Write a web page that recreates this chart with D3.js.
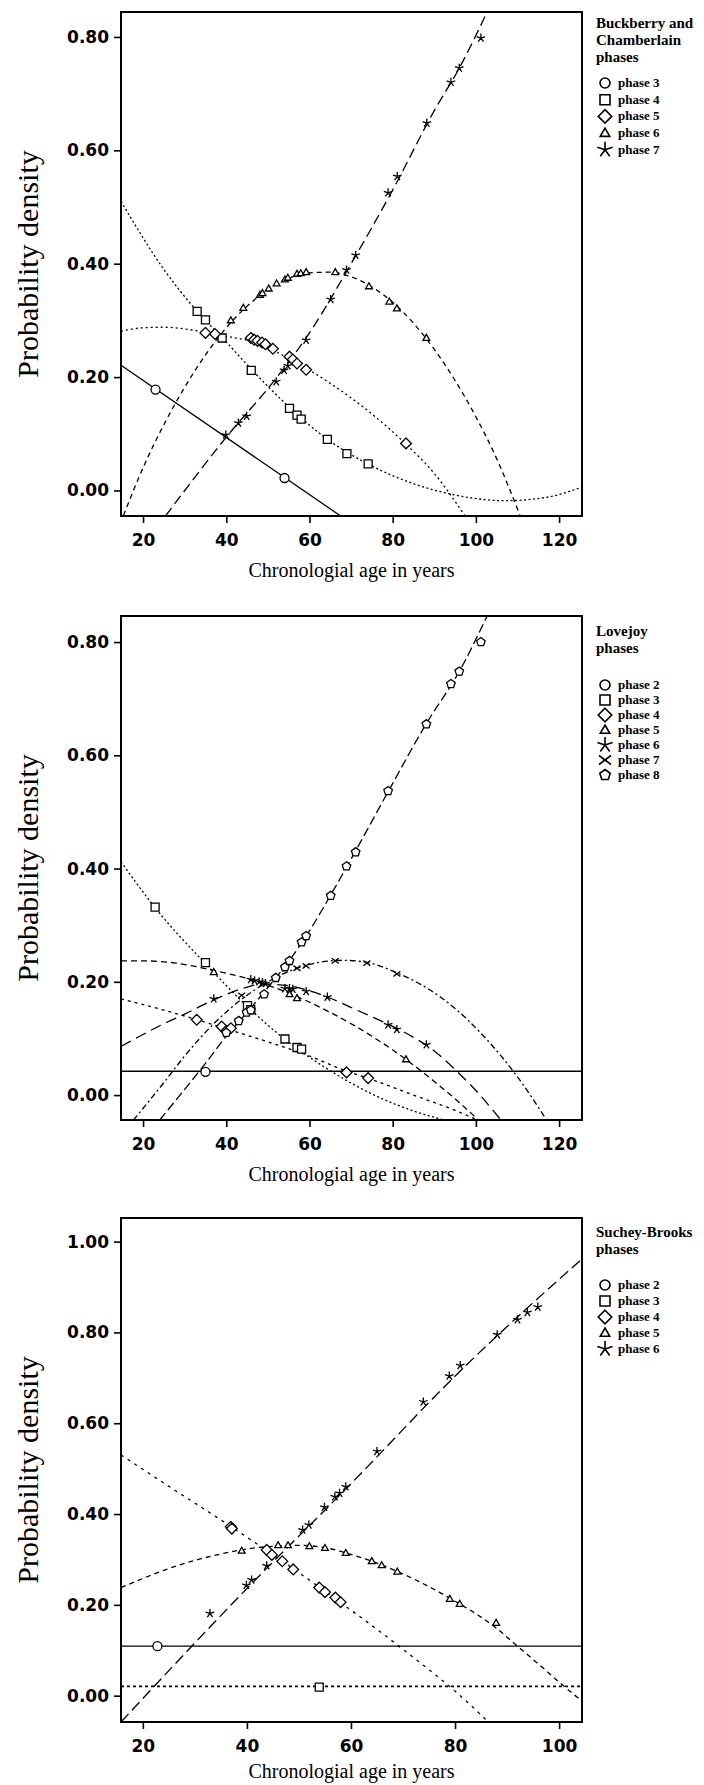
<!DOCTYPE html>
<html>
<head>
<meta charset="utf-8">
<script src="https://cdn.jsdelivr.net/npm/d3@7"></script>
<style>
  body { margin: 0; background: #fff; }
  svg { display: block; }
</style>
</head>
<body>
<script>
// ---- Buckberry and Chamberlain ----
var bcNames = ["phase 3", "phase 4", "phase 5", "phase 6", "phase 7"];
var bcCurve3 = [[14.7, 0.221], [67.5, -0.045]];
var bcCurve4 = [[14.7, 0.51], [25, 0.39], [33, 0.316], [40, 0.262], [46, 0.214], [55, 0.148], [64, 0.092], [74, 0.047], [85, 0.012], [95, -0.008], [107, -0.018], [117, -0.012], [125.5, 0.006]];
var bcCurve5 = [[14.7, 0.281], [20, 0.287], [25, 0.288], [30, 0.285], [35, 0.279], [40, 0.272], [46, 0.263], [51, 0.248], [56, 0.229], [65, 0.189], [75, 0.135], [83, 0.083], [90, 0.03], [97.4, -0.045]];
var bcCurve6 = [[15.3, -0.044], [20, 0.04], [25, 0.116], [30, 0.182], [35, 0.239], [40, 0.287], [45, 0.325], [50, 0.354], [55, 0.374], [60, 0.384], [65, 0.385], [70, 0.377], [75, 0.359], [80, 0.332], [85, 0.295], [90, 0.249], [95, 0.194], [100, 0.13], [105, 0.056], [110.6, -0.044]];
var bcCurve7 = [[25.4, -0.045], [40, 0.094], [52, 0.198], [60, 0.278], [70, 0.4], [80, 0.53], [90, 0.67], [96, 0.745], [102.7, 0.844]];
var bcPts3 = [[23, 0.178], [54, 0.022]];
var bcPts4 = [[33, 0.316], [35, 0.301], [39, 0.269], [46, 0.212], [55.2, 0.145], [57, 0.133], [58, 0.126], [64.3, 0.09], [69, 0.065], [74.1, 0.047]];
var bcPts5 = [[35, 0.278], [37.3, 0.276], [45.9, 0.269], [46.7, 0.266], [47.5, 0.264], [48.6, 0.261], [49.4, 0.258], [51.2, 0.25], [55.2, 0.236], [56, 0.231], [57, 0.224], [59.2, 0.213], [83.2, 0.083]];
var bcPts6 = [[41.1, 0.3], [44.1, 0.322], [48.1, 0.345], [48.7, 0.348], [50.2, 0.356], [52.1, 0.365], [54.1, 0.372], [54.8, 0.375], [57, 0.382], [57.9, 0.383], [59.2, 0.385], [66.2, 0.385], [74.3, 0.36], [79.2, 0.333], [81, 0.321], [88.1, 0.269]];
var bcPts7 = [[39.9, 0.098], [42.9, 0.119], [44.9, 0.131], [52, 0.192], [53.9, 0.212], [54.8, 0.22], [59.2, 0.265], [65.1, 0.337], [68.9, 0.389], [71.1, 0.415], [78.9, 0.525], [81.1, 0.554], [88.2, 0.648], [94, 0.72], [96, 0.745], [101.2, 0.798]];

// ---- Lovejoy ----
var ljNames = ["phase 2", "phase 3", "phase 4", "phase 5", "phase 6", "phase 7", "phase 8"];
var ljCurve2 = [[14.7, 0.042], [125.5, 0.042]];
var ljCurve3 = [[14.7, 0.412], [23, 0.33], [35, 0.232], [45, 0.157], [54, 0.099], [65, 0.043], [75, 0.002], [85, -0.028], [95, -0.049]];
var ljCurve4 = [[14.7, 0.17], [25, 0.15], [33, 0.133], [40, 0.117], [50, 0.094], [60, 0.069], [69, 0.042], [74, 0.03], [85, 0.0], [95, -0.027], [101, -0.046]];
var ljCurve5 = [[14.7, 0.237], [20, 0.237], [28, 0.233], [37, 0.22], [45, 0.206], [55, 0.18], [65, 0.146], [75, 0.104], [83, 0.064], [90, 0.024], [96, -0.013], [100.6, -0.044]];
var ljCurve6 = [[14.7, 0.086], [20, 0.107], [25, 0.126], [30, 0.143], [37, 0.168], [43, 0.186], [49, 0.196], [55, 0.193], [60, 0.184], [65, 0.171], [72, 0.148], [79, 0.125], [85, 0.102], [90, 0.078], [95, 0.045], [100, 0.008], [106, -0.044]];
var ljCurve7 = [[17.7, -0.044], [25, 0.022], [30, 0.069], [37, 0.126], [44, 0.171], [50, 0.2], [57, 0.224], [62, 0.234], [68, 0.238], [74, 0.234], [81, 0.216], [88, 0.19], [95, 0.153], [102, 0.103], [110, 0.032], [117, -0.044]];
var ljCurve8 = [[24, -0.044], [30, 0.01], [35, 0.056], [40, 0.104], [45, 0.146], [50, 0.19], [55, 0.236], [60, 0.29], [65, 0.352], [71, 0.43], [79, 0.537], [88, 0.655], [96, 0.748], [102.7, 0.846]];
var ljPts2 = [[35, 0.041]];
var ljPts3 = [[22.9, 0.332], [35, 0.234], [45.1, 0.158], [45.9, 0.151], [54.1, 0.099], [57, 0.084], [58.1, 0.081]];
var ljPts4 = [[32.9, 0.133], [38.9, 0.121], [40, 0.113], [41.1, 0.118], [68.9, 0.04], [74.1, 0.03]];
var ljPts5 = [[37, 0.217], [55.2, 0.178], [57, 0.171], [83.2, 0.063]];
var ljPts6 = [[37, 0.17], [45.9, 0.204], [46.8, 0.202], [47.9, 0.2], [48.7, 0.199], [49.4, 0.197], [54.1, 0.188], [55.2, 0.188], [56, 0.187], [59.2, 0.183], [64.3, 0.173], [78.9, 0.124], [81, 0.116], [88.1, 0.089]];
var ljPts7 = [[43.7, 0.176], [57, 0.224], [59.2, 0.228], [66.2, 0.237], [73.8, 0.233], [81, 0.214]];
var ljPts8 = [[40, 0.11], [43, 0.131], [44.9, 0.146], [45.9, 0.15], [49.1, 0.178], [51.9, 0.207], [54.1, 0.226], [55.2, 0.237], [58.1, 0.27], [59.2, 0.281], [65.1, 0.352], [68.9, 0.404], [71.1, 0.429], [78.9, 0.537], [88.1, 0.655], [94, 0.726], [96, 0.748], [101.2, 0.8]];

// ---- Suchey-Brooks ----
var sbNames = ["phase 2", "phase 3", "phase 4", "phase 5", "phase 6"];
var sbCurve2 = [[15.8, 0.109], [104.4, 0.109]];
var sbCurve3 = [[15.8, 0.0205], [104.4, 0.0205]];
var sbCurve4 = [[15.8, 0.53], [25, 0.461], [37, 0.372], [44, 0.318], [49, 0.279], [54, 0.238], [58, 0.205], [65, 0.146], [70, 0.102], [75, 0.057], [80, 0.01], [86.4, -0.058]];
var sbCurve5 = [[15.8, 0.238], [20, 0.258], [25, 0.28], [30, 0.298], [35, 0.312], [40, 0.323], [45, 0.329], [50, 0.331], [55, 0.326], [60, 0.311], [65, 0.292], [70, 0.268], [75, 0.24], [80, 0.208], [85, 0.173], [88, 0.148], [92, 0.109], [96, 0.07], [101, 0.02], [104.4, -0.012]];
var sbCurve6 = [[15.8, -0.058], [40, 0.236], [59, 0.455], [81, 0.715], [104.4, 0.962]];
var sbPts2 = [[22.8, 0.109]];
var sbPts3 = [[53.9, 0.019]];
var sbPts4 = [[36.9, 0.372], [37.1, 0.368], [43.8, 0.321], [44.8, 0.31], [46.8, 0.296], [48.9, 0.278], [53.9, 0.238], [55, 0.228], [57, 0.216], [58, 0.206]];
var sbPts5 = [[39, 0.319], [46, 0.331], [47.9, 0.331], [52, 0.329], [55, 0.325], [59, 0.314], [64, 0.296], [65.9, 0.287], [68.9, 0.273], [79, 0.213], [80.9, 0.202], [87.9, 0.16]];
var sbPts6 = [[32.9, 0.181], [39.9, 0.243], [40.9, 0.255], [43.8, 0.286], [50.7, 0.365], [51.9, 0.376], [54.9, 0.415], [56.9, 0.438], [57.8, 0.446], [59, 0.46], [65, 0.538], [73.9, 0.647], [78.9, 0.704], [81, 0.727], [88.1, 0.795], [92, 0.828], [93.9, 0.844], [95.9, 0.856]];

// tick values
var yTicksA = [0, 0.2, 0.4, 0.6, 0.8];
var yTicksB = [0, 0.2, 0.4, 0.6, 0.8, 1.0];
var xTicksA = [20, 40, 60, 80, 100, 120];
var xTicksB = [20, 40, 60, 80, 100];

var svg = d3.select("body").append("svg")
  .attr("width", 704)
  .attr("height", 1785);

var left = 121, right = 582;

// marker shapes, all as paths centred on 0,0
function shape(type, r) {
  var p = d3.path();
  if (type == "circle") {
    p.arc(0, 0, r, 0, 2 * Math.PI);
  } else if (type == "square") {
    p.rect(-r, -r, 2 * r, 2 * r);
  } else if (type == "diamond") {
    var d = r * 1.35;
    p.moveTo(0, -d); p.lineTo(d, 0); p.lineTo(0, d); p.lineTo(-d, 0); p.closePath();
  } else if (type == "triangle") {
    p.moveTo(0, -r); p.lineTo(r * 0.95, r * 0.65); p.lineTo(-r * 0.95, r * 0.65); p.closePath();
  } else if (type == "star") {
    for (var i = 0; i < 5; i++) {
      var a = -Math.PI / 2 + i * 2 * Math.PI / 5;
      p.moveTo(0, 0); p.lineTo(r * Math.cos(a), r * Math.sin(a));
    }
  } else if (type == "times") {
    p.moveTo(-r, -r * 0.75); p.lineTo(r, r * 0.75);
    p.moveTo(-r, r * 0.75); p.lineTo(r, -r * 0.75);
  } else if (type == "pentagon") {
    for (var j = 0; j < 5; j++) {
      var b = -Math.PI / 2 + j * 2 * Math.PI / 5;
      if (j == 0) p.moveTo(r * Math.cos(b), r * Math.sin(b));
      else p.lineTo(r * Math.cos(b), r * Math.sin(b));
    }
    p.closePath();
  }
  return p.toString();
}

function drawPanel(cfg, idx) {
  var xScale = d3.scaleLinear().domain(cfg.xDomain).range([left, right]);
  var yScale = d3.scaleLinear().domain(cfg.yDomain).range([cfg.bottom, cfg.top]);
  var g = svg.append("g");

  var clipId = "clip" + idx;
  svg.append("clipPath").attr("id", clipId)
    .append("rect")
    .attr("x", left).attr("y", cfg.top)
    .attr("width", right - left).attr("height", cfg.bottom - cfg.top);

  var plot = g.append("g").attr("clip-path", "url(#" + clipId + ")");

  var line = d3.line()
    .x(d => xScale(d[0]))
    .y(d => yScale(d[1]))
    .curve(d3.curveMonotoneX);

  cfg.series.forEach(function(s) {
    plot.append("path")
      .datum(s.curve)
      .attr("d", line)
      .attr("fill", "none")
      .attr("stroke", "#000")
      .attr("stroke-width", s.width || 1.3)
      .attr("stroke-dasharray", s.dash);
  });

  cfg.series.forEach(function(s) {
    plot.selectAll(null)
      .data(s.points)
      .enter()
      .append("path")
      .attr("transform", d => `translate(${xScale(d[0])},${yScale(d[1])})`)
      .attr("d", shape(s.symbol, s.size))
      .attr("fill", (s.symbol == "star" || s.symbol == "times") ? "none" : "#fff")
      .attr("stroke", "#000")
      .attr("stroke-width", 1.3);
  });

  // frame
  g.append("rect")
    .attr("x", left).attr("y", cfg.top)
    .attr("width", right - left).attr("height", cfg.bottom - cfg.top)
    .attr("fill", "none").attr("stroke", "#000").attr("stroke-width", 2);

  var leftAxis = d3.axisLeft(yScale).tickValues(cfg.yTicks)
    .tickFormat(d3.format(".2f")).tickSize(7).tickPadding(5);
  var bottomAxis = d3.axisBottom(xScale).tickValues(cfg.xTicks)
    .tickFormat(d3.format("d")).tickSize(7).tickPadding(11);

  var ya = g.append("g").attr("transform", `translate(${left},0)`).call(leftAxis);
  var xa = g.append("g").attr("transform", `translate(0,${cfg.bottom})`).call(bottomAxis);
  [ya, xa].forEach(function(a) {
    a.select(".domain").remove();
    a.selectAll("line").attr("stroke-width", 1.6);
    a.selectAll("text")
      .style("font-family", "DejaVu Sans")
      .style("font-weight", "bold")
      .style("font-size", "17px")
      .attr("fill", "#000");
  });

  // axis labels
  g.append("text")
    .attr("transform", `translate(38,${(cfg.top + cfg.bottom) / 2}) rotate(-90)`)
    .style("text-anchor", "middle")
    .style("font-family", "Liberation Serif")
    .style("font-size", "30px")
    .text("Probability density");

  g.append("text")
    .attr("x", (left + right) / 2)
    .attr("y", cfg.xLabelY)
    .style("text-anchor", "middle")
    .style("font-family", "Liberation Serif")
    .style("font-size", "20px")
    .text("Chronologial age in years");

  // legend
  var lg = g.append("g");
  cfg.title.forEach(function(t, i) {
    lg.append("text")
      .attr("x", 596)
      .attr("y", cfg.titleY + i * 17)
      .style("font-family", "Liberation Serif")
      .style("font-weight", "bold")
      .style("font-size", "15px")
      .text(t);
  });
  cfg.series.forEach(function(s, i) {
    var y = cfg.legendY + i * cfg.legendStep;
    var legendSize = { circle: 5, square: 5, diamond: 5, triangle: 5, star: 8, times: 6, pentagon: 5.5 }[s.symbol];
    lg.append("path")
      .attr("transform", `translate(605,${y})`)
      .attr("d", shape(s.symbol, legendSize))
      .attr("fill", "none")
      .attr("stroke", "#000")
      .attr("stroke-width", 1.6);
    lg.append("text")
      .attr("x", 618)
      .attr("y", y + 4)
      .style("font-family", "Liberation Serif")
      .style("font-weight", "bold")
      .style("font-size", "13px")
      .text(s.name);
  });
}

var panels = [
  {
    top: 12, bottom: 516, xLabelY: 577,
    xDomain: [14.7, 125.5], yDomain: [-0.045, 0.844],
    xTicks: xTicksA, yTicks: yTicksA,
    title: ["Buckberry and", "Chamberlain", "phases"], titleY: 28, legendY: 83, legendStep: 16.7,
    series: [
      { name: bcNames[0], curve: bcCurve3, points: bcPts3, symbol: "circle", size: 4.5, dash: null },
      { name: bcNames[1], curve: bcCurve4, points: bcPts4, symbol: "square", size: 4, dash: "2,2.5" },
      { name: bcNames[2], curve: bcCurve5, points: bcPts5, symbol: "diamond", size: 4, dash: "2,3" },
      { name: bcNames[3], curve: bcCurve6, points: bcPts6, symbol: "triangle", size: 3.6, dash: "5,4" },
      { name: bcNames[4], curve: bcCurve7, points: bcPts7, symbol: "star", size: 4.5, dash: "10,5" }
    ]
  },
  {
    top: 616, bottom: 1120, xLabelY: 1181,
    xDomain: [14.7, 125.5], yDomain: [-0.044, 0.846],
    xTicks: xTicksA, yTicks: yTicksA,
    title: ["Lovejoy", "phases"], titleY: 636, legendY: 685, legendStep: 15,
    series: [
      { name: ljNames[0], curve: ljCurve2, points: ljPts2, symbol: "circle", size: 4.5, dash: null, width: 1.6 },
      { name: ljNames[1], curve: ljCurve3, points: ljPts3, symbol: "square", size: 4, dash: "2,2.5" },
      { name: ljNames[2], curve: ljCurve4, points: ljPts4, symbol: "diamond", size: 4, dash: "3,4" },
      { name: ljNames[3], curve: ljCurve5, points: ljPts5, symbol: "triangle", size: 3.6, dash: "6,4" },
      { name: ljNames[4], curve: ljCurve6, points: ljPts6, symbol: "star", size: 4.5, dash: "11,6" },
      { name: ljNames[5], curve: ljCurve7, points: ljPts7, symbol: "times", size: 3.5, dash: "6,3,2,3" },
      { name: ljNames[6], curve: ljCurve8, points: ljPts8, symbol: "pentagon", size: 4.5, dash: "9,4" }
    ]
  },
  {
    top: 1218, bottom: 1722, xLabelY: 1778,
    xDomain: [15.8, 104.4], yDomain: [-0.058, 1.052],
    xTicks: xTicksB, yTicks: yTicksB,
    title: ["Suchey-Brooks", "phases"], titleY: 1237, legendY: 1285, legendStep: 16,
    series: [
      { name: sbNames[0], curve: sbCurve2, points: sbPts2, symbol: "circle", size: 4.5, dash: null },
      { name: sbNames[1], curve: sbCurve3, points: sbPts3, symbol: "square", size: 4, dash: "3,3", width: 1.6 },
      { name: sbNames[2], curve: sbCurve4, points: sbPts4, symbol: "diamond", size: 4, dash: "3,5" },
      { name: sbNames[3], curve: sbCurve5, points: sbPts5, symbol: "triangle", size: 3.6, dash: "5,4" },
      { name: sbNames[4], curve: sbCurve6, points: sbPts6, symbol: "star", size: 4.5, dash: "11,5" }
    ]
  }
];

panels.forEach(drawPanel);
</script>
</body>
</html>
